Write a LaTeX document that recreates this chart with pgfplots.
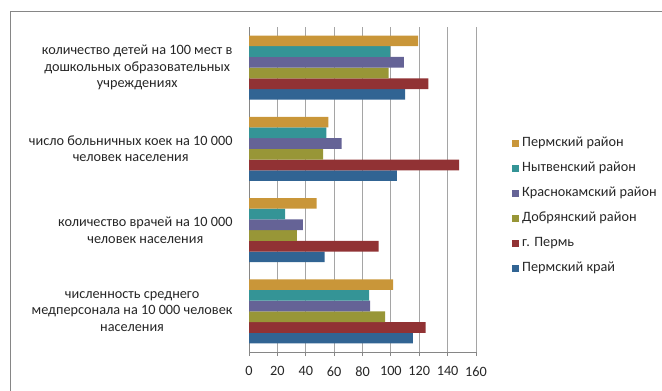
\documentclass[border=0pt]{standalone}
\usepackage{pgfplots}
\pgfplotsset{compat=1.18}
\usepackage{fontspec}
\setmainfont{Carlito}
\definecolor{cOrange}{RGB}{201,150,57}
\definecolor{cTeal}{RGB}{52,148,150}
\definecolor{cPurple}{RGB}{101,99,150}
\definecolor{cOlive}{RGB}{152,150,55}
\definecolor{cRed}{RGB}{145,50,52}
\definecolor{cBlue}{RGB}{49,100,147}
\definecolor{cFrame}{RGB}{134,134,134}
\definecolor{cGrid}{RGB}{165,165,165}
\begin{document}
\begin{tikzpicture}[x=1bp,y=1bp]
\useasboundingbox (0,0) rectangle (662,390);
\draw[cFrame, line width=1bp] (10.5,-2) -- (10.5,378.5) -- (670,378.5);
\begin{axis}[
  at={(249bp,38bp)}, anchor=south west,
  scale only axis, width=227bp, height=325bp,
  xbar, bar width=10.7bp,
  xmin=0, xmax=160, ymin=-0.5, ymax=3.5,
  xtick={0,20,...,160},
  ytick={0,1,2,3},
  yticklabels={{численность среднего\\медперсонала на 10 000 человек\\населения},
               {количество врачей на 10 000\\человек населения},
               {число больничных коек на 10 000\\человек населения},
               {количество детей на 100 мест в\\дошкольных образовательных\\учреждениях}},
  minor ytick={-0.5,0.5,1.5,2.5,3.5},
  axis lines*=left,
  axis line style={cFrame, line width=0.8bp},
  tick align=outside,
  major tick length=4bp,
  minor tick length=5bp,
  ytick style={draw=none},
  minor tick style={draw=cFrame, line width=0.8bp},
  xtick style={cFrame, line width=0.8bp},
  xmajorgrids, grid style={cGrid, line width=0.8bp},
  /pgf/number format/assume math mode=true,
  ticklabel style={font=\fontsize{14.3}{16.5}\selectfont, text=black!85},
  yticklabel style={align=center, xshift=-9bp},
  xticklabel style={yshift=-7bp},
  reverse legend,
  legend style={at={(1.1586,0.66)}, anchor=north west, draw=none, fill=none,
    font=\fontsize{14.3}{16.5}\selectfont, text=black!85,
    inner sep=0pt, row sep=13bp, column sep=3bp,
    nodes={inner sep=0pt, text height=9bp, text depth=3bp, anchor=west}},
  legend cell align=left,
  legend image code/.code={\fill[#1,draw=none] (0bp,-3.5bp) rectangle (7bp,3.5bp);},
]
\addplot[fill=cBlue, draw=none, bar shift=-26.75bp] coordinates {(115.5,0) (53.3,1) (104.2,2) (110.1,3)};
\addplot[fill=cRed, draw=none, bar shift=-16.05bp] coordinates {(124.4,0) (91.3,1) (148.1,2) (126.5,3)};
\addplot[fill=cOlive, draw=none, bar shift=-5.35bp] coordinates {(96.0,0) (33.8,1) (52.3,2) (98.4,3)};
\addplot[fill=cPurple, draw=none, bar shift=5.35bp] coordinates {(85.4,0) (38.0,1) (65.3,2) (109.2,3)};
\addplot[fill=cTeal, draw=none, bar shift=16.05bp] coordinates {(84.7,0) (25.4,1) (54.5,2) (99.5,3)};
\addplot[fill=cOrange, draw=none, bar shift=26.75bp] coordinates {(101.6,0) (47.7,1) (55.9,2) (119.2,3)};
\legend{Пермский край, г. Пермь, Добрянский район, Краснокамский район, Нытвенский район, Пермский район}
\end{axis}
\end{tikzpicture}
\end{document}
